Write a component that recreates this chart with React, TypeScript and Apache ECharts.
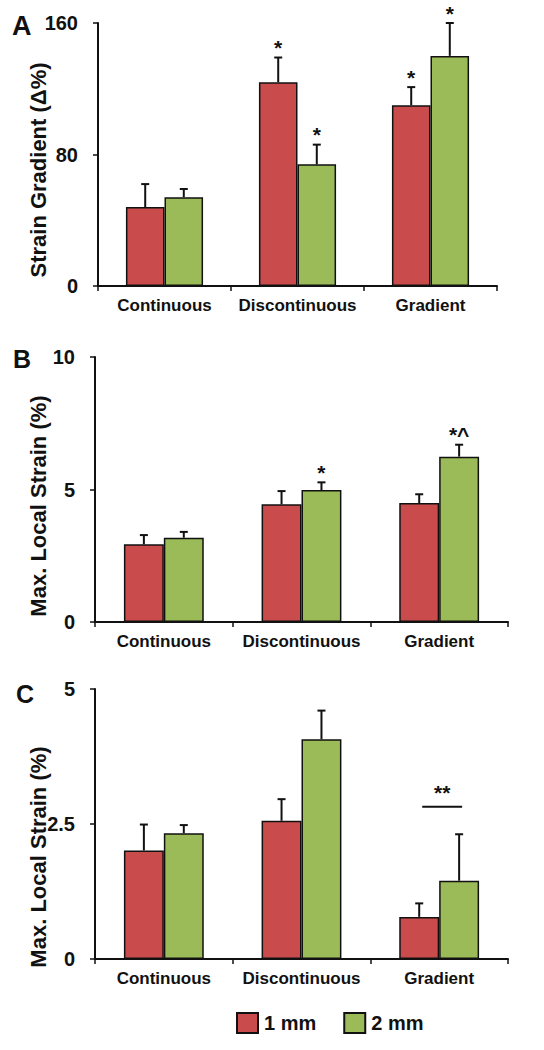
import React, { useEffect, useRef } from "react";
import * as echarts from "echarts";

// ---- data ----
const categories = ["Continuous", "Discontinuous", "Gradient"];
const seriesNames = ["1 mm", "2 mm"];

// Panel A: Strain Gradient (Δ%)
const aMean1mm = [48, 124, 110];
const aSd1mm = [14, 15, 11];
const aMean2mm = [54, 74, 140];
const aSd2mm = [5, 12, 20];
const aSig1mm = ["", "*", "*"];
const aSig2mm = ["", "*", "*"];
const aTicks = { min: 0, max: 160, interval: 80 };

// Panel B: Max. Local Strain (%)
const bMean1mm = [2.93, 4.44, 4.49];
const bSd1mm = [0.35, 0.5, 0.33];
const bMean2mm = [3.18, 4.98, 6.24];
const bSd2mm = [0.22, 0.29, 0.45];
const bSig1mm = ["", "", ""];
const bSig2mm = ["", "*", "*^"];
const bTicks = { min: 0, max: 10, interval: 5 };

// Panel C: Max. Local Strain (%)
const cMean1mm = [2.01, 2.56, 0.78];
const cSd1mm = [0.48, 0.4, 0.25];
const cMean2mm = [2.33, 4.07, 1.45];
const cSd2mm = [0.15, 0.53, 0.86];
const cSig1mm = ["", "", ""];
const cSig2mm = ["", "", ""];
const cTicks = { min: 0, max: 5, interval: 2.5 };
const cBracketCategory = 2;
const cBracketValue = 2.82;
const cBracketLabel = "**";

const panelLetters = ["A", "B", "C"];
const axisNames = ["Strain Gradient (\u0394%)", "Max. Local Strain (%)", "Max. Local Strain (%)"];

const RED = "#C94B4B";
const GREEN = "#9BBB59";
const INK = "#111111";
const FONT = '"Liberation Sans", Arial, sans-serif';
const BAR_FRAC = 0.29;

export default function App() {
  const ref = useRef<HTMLDivElement>(null);

  useEffect(() => {
    if (!ref.current) return;
    const chart = echarts.init(ref.current, undefined, { renderer: "svg" });

    const panels = [
      { m1: aMean1mm, s1: aSd1mm, m2: aMean2mm, s2: aSd2mm, g1: aSig1mm, g2: aSig2mm, t: aTicks },
      { m1: bMean1mm, s1: bSd1mm, m2: bMean2mm, s2: bSd2mm, g1: bSig1mm, g2: bSig2mm, t: bTicks },
      { m1: cMean1mm, s1: cSd1mm, m2: cMean2mm, s2: cSd2mm, g1: cSig1mm, g2: cSig2mm, t: cTicks },
    ];

    const grids = [
      { left: 98, top: 23, width: 399, height: 263 },
      { left: 95, top: 357, width: 413, height: 265 },
      { left: 95, top: 689, width: 413, height: 270 },
    ];

    const xAxes = grids.map((_, k) => ({
      type: "category",
      gridIndex: k,
      data: categories,
      axisLine: { lineStyle: { color: INK, width: 2 } },
      axisTick: { show: true, length: 5, inside: false, lineStyle: { color: INK, width: 1.5 } },
      axisLabel: {
        interval: 0,
        hideOverlap: false,
        margin: 11,
        fontSize: 17,
        fontWeight: "bold",
        color: INK,
        fontFamily: FONT,
      },
    }));

    const yAxes = panels.map((p, k) => ({
      type: "value",
      gridIndex: k,
      min: p.t.min,
      max: p.t.max,
      interval: p.t.interval,
      splitLine: { show: false },
      axisLine: { show: true, lineStyle: { color: INK, width: 2 } },
      axisTick: { show: true, length: 5, lineStyle: { color: INK, width: 1.5 } },
      axisLabel: { margin: 20, fontSize: 20, fontWeight: "bold", color: INK, fontFamily: FONT },
    }));

    const series: any[] = [];
    panels.forEach((p, k) => {
      const groups = [
        { name: seriesNames[0], mean: p.m1, sd: p.s1, sig: p.g1, color: RED, sign: -1 },
        { name: seriesNames[1], mean: p.m2, sd: p.s2, sig: p.g2, color: GREEN, sign: 1 },
      ];
      groups.forEach((g) => {
        series.push({
          type: "bar",
          name: g.name,
          xAxisIndex: k,
          yAxisIndex: k,
          data: g.mean,
          barWidth: BAR_FRAC * 100 + "%",
          barGap: "0%",
          itemStyle: { color: g.color, borderColor: INK, borderWidth: 1.5 },
          z: 2,
        });
      });
      groups.forEach((g) => {
        series.push({
          type: "custom",
          xAxisIndex: k,
          yAxisIndex: k,
          z: 5,
          data: g.mean.map((m, i) => [i, m, m + g.sd[i]]),
          renderItem: (params: any, api: any) => {
            const i = params.dataIndex;
            const cat = api.value(0);
            const base = api.coord([cat, api.value(1)]);
            const top = api.coord([cat, api.value(2)]);
            const band = api.size([1, 0])[0];
            const bw = band * BAR_FRAC;
            const x = base[0] + (g.sign * bw) / 2;
            const children: any[] = [
              { type: "line", shape: { x1: x, y1: base[1], x2: x, y2: top[1] }, style: { stroke: INK, lineWidth: 2 } },
              { type: "line", shape: { x1: x - 4, y1: top[1], x2: x + 4, y2: top[1] }, style: { stroke: INK, lineWidth: 2 } },
            ];
            const s = g.sig[i];
            if (s) {
              children.push({
                type: "text",
                x: x,
                y: top[1] - 10,
                style: {
                  text: s,
                  fontSize: 21,
                  fontWeight: "bold",
                  fontFamily: FONT,
                  fill: INK,
                  align: "center",
                  verticalAlign: "middle",
                },
              });
            }
            return { type: "group", children };
          },
        });
      });
    });

    // bracket in panel C
    series.push({
      type: "custom",
      xAxisIndex: 2,
      yAxisIndex: 2,
      z: 5,
      data: [[cBracketCategory, cBracketValue]],
      renderItem: (_params: any, api: any) => {
        const c = api.coord([api.value(0), api.value(1)]);
        const band = api.size([1, 0])[0];
        const half = band * BAR_FRAC * 0.5;
        const cx = c[0] + 3;
        return {
          type: "group",
          children: [
            { type: "line", shape: { x1: cx - half, y1: c[1], x2: cx + half, y2: c[1] }, style: { stroke: INK, lineWidth: 2 } },
            {
              type: "text",
              x: cx,
              y: c[1] - 14,
              style: {
                text: cBracketLabel,
                fontSize: 21,
                fontWeight: "bold",
                fontFamily: FONT,
                fill: INK,
                align: "center",
                verticalAlign: "middle",
              },
            },
          ],
        };
      },
    });

    const letterPos = [
      { x: 12, y: 26, size: 27 },
      { x: 13, y: 359, size: 25 },
      { x: 16, y: 694, size: 25 },
    ];
    const namePos = [
      { x: 38, y: 170 },
      { x: 38, y: 506 },
      { x: 38, y: 857 },
    ];

    const graphic: any[] = [];
    panelLetters.forEach((L, k) => {
      graphic.push({
        type: "text",
        x: letterPos[k].x,
        y: letterPos[k].y,
        style: {
          text: L,
          fontSize: letterPos[k].size,
          fontWeight: "bold",
          fontFamily: FONT,
          fill: INK,
          align: "left",
          verticalAlign: "middle",
        },
      });
    });
    axisNames.forEach((n, k) => {
      graphic.push({
        type: "text",
        x: namePos[k].x,
        y: namePos[k].y,
        rotation: Math.PI / 2,
        style: {
          text: n,
          fontSize: 22,
          fontWeight: "bold",
          fontFamily: FONT,
          fill: INK,
          align: "center",
          verticalAlign: "middle",
        },
      });
    });

    chart.setOption({
      animation: false,
      backgroundColor: "#ffffff",
      grid: grids,
      xAxis: xAxes,
      yAxis: yAxes,
      series,
      graphic,
      legend: {
        data: seriesNames,
        left: 236,
        top: 1012,
        padding: 0,
        icon: "rect",
        itemWidth: 21,
        itemHeight: 20,
        itemGap: 27,
        itemStyle: { borderColor: INK, borderWidth: 2 },
        textStyle: { fontSize: 20, fontWeight: "bold", color: INK, fontFamily: FONT, padding: [0, 0, 0, 1] },
      },
    });

    return () => chart.dispose();
  }, []);

  return (
    <div
      ref={ref}
      style={{ position: "fixed", left: 0, top: 0, width: 544, height: 1050, background: "#fff" }}
    />
  );
}
